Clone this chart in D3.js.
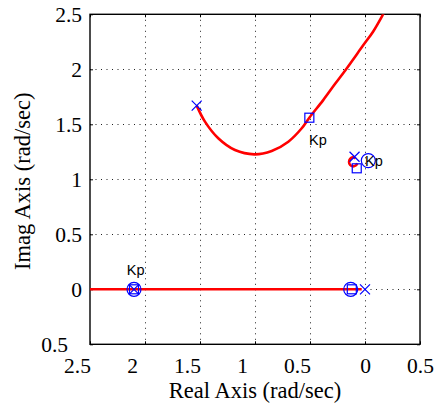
<!DOCTYPE html>
<html><head><meta charset="utf-8">
<script src="https://cdn.jsdelivr.net/npm/d3@7"></script>
<style>
html,body{margin:0;padding:0;background:#fff;}
svg{display:block;}
</style>
</head><body>
<script>
// ---- data ----
const xTicks = [-2.5, -2, -1.5, -1, -0.5, 0, 0.5];
const xTickLabels = ["2.5", "2", "1.5", "1", "0.5", "0", "0.5"];
const yTicks = [-0.5, 0, 0.5, 1, 1.5, 2, 2.5];
const yTickLabels = ["0.5", "0", "0.5", "1", "1.5", "2", "2.5"];

// complex branch of the locus (real, imag)
const upperRe = [-1.53, -1.455, -1.334, -1.182, -1.006, -0.848, -0.697, -0.575, -0.506, -0.38, -0.27, -0.18, -0.015, 0.073, 0.161, 0.18];
const upperIm = [1.67, 1.524, 1.373, 1.266, 1.227, 1.257, 1.342, 1.464, 1.56, 1.72, 1.87, 1.99, 2.22, 2.342, 2.494, 2.53];
// small branch near the lightly damped pole/zero pair
const smallRe = [-0.085, -0.11, -0.135, -0.145, -0.135, -0.11, -0.085, -0.07];
const smallIm = [1.19, 1.2, 1.185, 1.158, 1.13, 1.118, 1.125, 1.145];
// real-axis branch
const realRe = [-2.6, -0.03];
const realIm = [0, 0];

const polesRe = [-1.53, -0.095, 0, -2.1];
const polesIm = [1.67, 1.205, 0, 0];
const zerosRe = [0.03, -0.13, -2.1];
const zerosIm = [1.17, 0, 0];
const kpRe = [-0.506, -0.075, -0.12, -2.1];
const kpIm = [1.56, 1.10, 0, 0];
const kpLabelRe = [-0.509, 0.0, -2.166];
const kpLabelIm = [1.312, 1.12, 0.13];
const kpLabelText = ["Kp", "Kp", "Kp"];

const xTitle = "Real Axis (rad/sec)";
const yTitle = "Imag Axis (rad/sec)";

// ---- layout ----
const W = 436, H = 406;
const L = 90, R = 420, T = 14.3, B = 344.3;
const serif = "'Liberation Serif','Times New Roman',serif";
const sans = "'Liberation Sans',Arial,sans-serif";

const x = d3.scaleLinear().domain([-2.5, 0.5]).range([L, R]);
const y = d3.scaleLinear().domain([-0.5, 2.5]).range([B, T]);

const svg = d3.select("body").append("svg").attr("width", W).attr("height", H);

// clip
svg.append("clipPath").attr("id", "clip").append("rect")
  .attr("x", L).attr("y", T).attr("width", R - L).attr("height", B - T);

// grid
const grid = svg.append("g").attr("stroke", "#222").attr("stroke-width", 1)
  .attr("stroke-dasharray", "1,4.5");
grid.selectAll("line.gx").data(xTicks.slice(1, -1)).join("line")
  .attr("x1", d => Math.round(x(d)) + 0.5).attr("x2", d => Math.round(x(d)) + 0.5)
  .attr("y1", T).attr("y2", B);
grid.selectAll("line.gy").data(yTicks.slice(1, -1)).join("line")
  .attr("y1", d => Math.round(y(d)) + 0.5).attr("y2", d => Math.round(y(d)) + 0.5)
  .attr("x1", L).attr("x2", R);

// axes
const fmtX = d => xTickLabels[xTicks.indexOf(d)];
const fmtY = d => yTickLabels[yTicks.indexOf(d)];
const gx = svg.append("g").attr("transform", `translate(0,${B})`)
  .call(d3.axisBottom(x).tickValues(xTicks).tickFormat(fmtX).tickSizeInner(-3).tickSizeOuter(0).tickPadding(13));
gx.selectAll("text").attr("dx", d => d < 0 ? -13 : 0);
const gy = svg.append("g").attr("transform", `translate(${L},0)`)
  .call(d3.axisLeft(y).tickValues(yTicks).tickFormat(fmtY).tickSizeInner(-3).tickSizeOuter(0).tickPadding(8));
gy.selectAll("text").attr("dx", d => d < 0 ? -14 : 0);
svg.append("g").attr("transform", `translate(0,${T})`)
  .call(d3.axisTop(x).tickValues(xTicks).tickFormat("").tickSizeInner(-3).tickSizeOuter(0));
svg.append("g").attr("transform", `translate(${R},0)`)
  .call(d3.axisRight(y).tickValues(yTicks).tickFormat("").tickSizeInner(-3).tickSizeOuter(0));
svg.selectAll(".domain").remove();
svg.selectAll(".tick line").attr("stroke", "#000");
svg.selectAll(".tick text").attr("font-family", serif).attr("font-size", 21.5).attr("fill", "#000");

// frame
svg.append("rect").attr("x", L).attr("y", T).attr("width", R - L).attr("height", B - T)
  .attr("fill", "none").attr("stroke", "#000").attr("stroke-width", 1.4);

// locus
const plot = svg.append("g").attr("clip-path", "url(#clip)");
const line = d3.line().x(d => x(d[0])).y(d => y(d[1])).curve(d3.curveCatmullRom);
const zipP = (a, b) => a.map((v, i) => [v, b[i]]);
[zipP(realRe, realIm), zipP(upperRe, upperIm), zipP(smallRe, smallIm)].forEach(pts => {
  plot.append("path").attr("d", line(pts)).attr("fill", "none")
    .attr("stroke", "#ff0000").attr("stroke-width", 2.6).attr("stroke-linecap", "butt");
});

// markers
const mk = svg.append("g").attr("stroke", "#0000ff").attr("fill", "none").attr("stroke-width", 1.2);
zipP(zerosRe, zerosIm).forEach(p => {
  mk.append("circle").attr("cx", x(p[0])).attr("cy", y(p[1])).attr("r", 7);
});
zipP(kpRe, kpIm).forEach(p => {
  mk.append("rect").attr("x", x(p[0]) - 4.5).attr("y", y(p[1]) - 4.5).attr("width", 9).attr("height", 9);
});
zipP(polesRe, polesIm).forEach(p => {
  const cx = x(p[0]), cy = y(p[1]), s = 5;
  mk.append("path").attr("d", `M${cx - s},${cy - s}L${cx + s},${cy + s}M${cx - s},${cy + s}L${cx + s},${cy - s}`);
});

// Kp labels
kpLabelText.forEach((t, i) => {
  svg.append("text").attr("x", x(kpLabelRe[i])).attr("y", y(kpLabelIm[i]))
    .attr("font-family", sans).attr("font-size", 14.5).attr("fill", "#000").text(t);
});

// titles
svg.append("text").attr("x", (L + R) / 2).attr("y", 398).attr("text-anchor", "middle")
  .attr("font-family", serif).attr("font-size", 22.5).text(xTitle);
svg.append("text").attr("transform", `translate(30,${(T + B) / 2 + 2}) rotate(-90)`).attr("text-anchor", "middle")
  .attr("font-family", serif).attr("font-size", 22.5).text(yTitle);
</script>
</body></html>
